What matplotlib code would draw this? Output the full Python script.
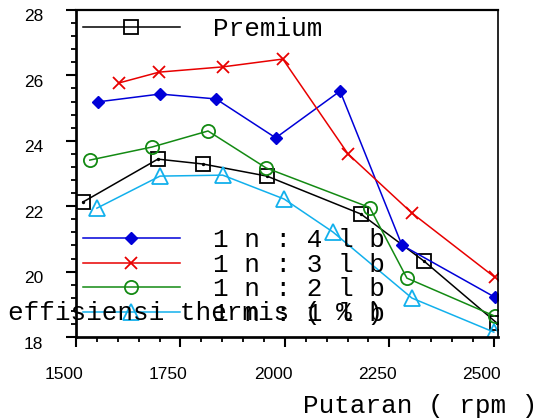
import matplotlib
matplotlib.use("Agg")
import matplotlib.pyplot as plt
import matplotlib.transforms as mtransforms
from matplotlib.ticker import MultipleLocator

# ---- data ----
prem_x = [1517, 1696, 1804, 1957, 2182, 2333, 2507]
prem_y = [22.13, 23.44, 23.29, 22.92, 21.76, 20.32, 18.43]

lb4_x = [1552, 1701, 1835, 1978, 2132, 2280, 2502]
lb4_y = [25.19, 25.43, 25.28, 24.09, 25.52, 20.81, 19.22]

lb3_x = [1603, 1699, 1851, 1995, 2151, 2304, 2502]
lb3_y = [25.77, 26.10, 26.26, 26.50, 23.60, 21.79, 19.83]

lb2_x = [1533, 1682, 1816, 1955, 2203, 2292, 2502]
lb2_y = [23.41, 23.81, 24.30, 23.17, 21.96, 19.80, 18.64]

lb1_x = [1550, 1701, 1851, 1998, 2115, 2304, 2500]
lb1_y = [21.94, 22.92, 22.95, 22.22, 21.21, 19.19, 18.15]

labels = ["Premium", "1 n : 4 l b", "1 n : 3 l b", "1 n : 2 l b", "1 n : 1 l b"]
x_ticks = [1500, 1750, 2000, 2250, 2500]
y_ticks = [18, 20, 22, 24, 26, 28]
x_label = "Putaran ( rpm )"
y_label = "effisiensi thermis ( % )"

W, H = 537, 419
fig = plt.figure(figsize=(W / 100, H / 100), dpi=100)
ax = fig.add_axes([76 / W, 1 - 337 / H, (498 - 76) / W, (337 - 10) / H])

mono = "Liberation Mono"
fs_big = 18.7
lw = 1.1

l_prem, = ax.plot(prem_x, prem_y, color="black", lw=lw, marker="s", ms=10,
                  mfc="none", mec="black", mew=1.3, label=labels[0])
ax.plot(prem_x, prem_y, ls="none", marker="o", ms=1.4, color="black")
l4, = ax.plot(lb4_x, lb4_y, color="#0000d8", lw=lw, marker="D", ms=6.5,
              mfc="#0000d8", mec="#0000d8", label=labels[1])
l3, = ax.plot(lb3_x, lb3_y, color="#e80000", lw=lw, marker="x", ms=9,
              mew=1.3, label=labels[2])
l2, = ax.plot(lb2_x, lb2_y, color="#138a13", lw=lw, marker="o", ms=9.5,
              mfc="none", mec="#138a13", mew=1.3, label=labels[3])
l1, = ax.plot(lb1_x, lb1_y, color="#12b0ec", lw=lw, marker="^", ms=11,
              mfc="none", mec="#12b0ec", mew=1.3, label=labels[4])

ax.set_xlim(1500, 2510)
ax.set_ylim(18, 28)
ax.set_xticks(x_ticks)
ax.set_yticks(y_ticks)
ax.xaxis.set_minor_locator(MultipleLocator(50))
ax.yaxis.set_minor_locator(MultipleLocator(0.4))
ax.tick_params(which="major", direction="out", length=7.2, width=1.5,
               labelsize=12.5)
ax.tick_params(which="minor", direction="out", length=3.8, width=1.3)
ax.tick_params(axis="x", which="major", pad=14.4)
ax.tick_params(axis="y", which="major", pad=16.6)
for lab in ax.get_xticklabels() + ax.get_yticklabels():
    lab.set_fontfamily("Liberation Sans")

dx = mtransforms.ScaledTranslation(-12 / 100, 0, fig.dpi_scale_trans)
for lab in ax.get_xticklabels():
    lab.set_transform(lab.get_transform() + dx)
dy = mtransforms.ScaledTranslation(0, -5.5 / 100, fig.dpi_scale_trans)
for lab in ax.get_yticklabels():
    lab.set_transform(lab.get_transform() + dy)

ax.spines["left"].set_linewidth(1.95)
ax.spines["bottom"].set_linewidth(1.95)
ax.spines["top"].set_linewidth(1.6)
ax.spines["right"].set_linewidth(1.2)

leg_kw = dict(frameon=False, prop={"family": mono, "size": fs_big},
              handlelength=3.73, handletextpad=1.27, borderpad=0,
              borderaxespad=0, loc="center left",
              bbox_transform=fig.transFigure)
leg1 = ax.legend(handles=[l_prem], bbox_to_anchor=(83 / W, 1 - 29 / H), **leg_kw)
ax.add_artist(leg1)
ax.legend(handles=[l4, l3, l2, l1], bbox_to_anchor=(83 / W, 1 - 277 / H),
          labelspacing=0.02, **leg_kw)

fig.text(8 / W, 1 - 320 / H, y_label, family=mono, fontsize=fs_big,
         va="baseline", ha="left")
fig.text(303 / W, 1 - 413 / H, x_label, family=mono, fontsize=fs_big,
         va="baseline", ha="left")

fig.savefig("out.png", dpi=100)
